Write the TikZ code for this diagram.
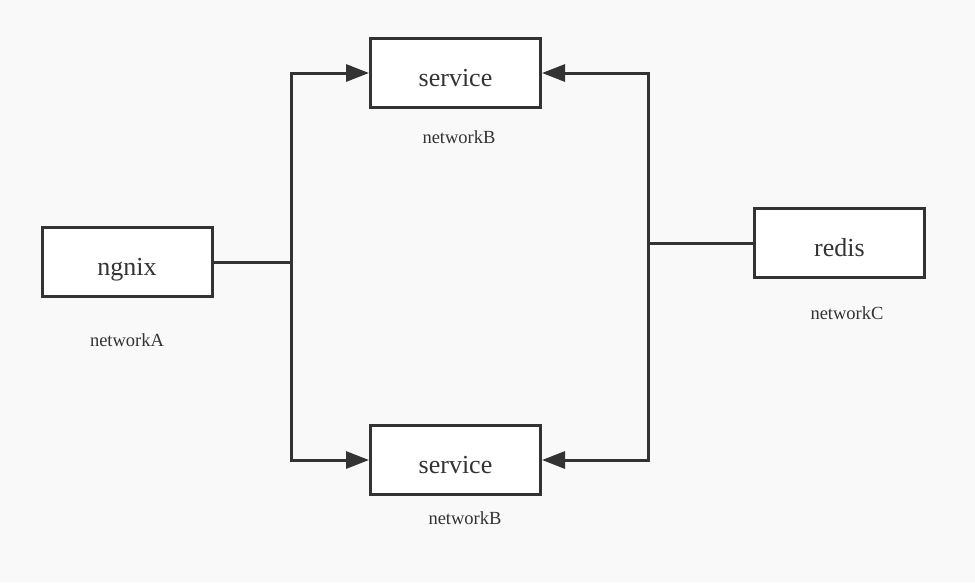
\documentclass[tikz,border=0pt]{standalone}
\usepackage{fontspec}
\setmainfont{Liberation Serif}
\usetikzlibrary{positioning}
\usetikzlibrary{arrows.meta}
\definecolor{ink}{HTML}{333333}
\definecolor{paper}{HTML}{F9F9F9}
\tikzset{
  every node/.style={
    align=center,
    text=ink,
  },
  box/.style={
    draw=ink,
    fill=white,
    line width=3pt,
    minimum width=170pt,
    minimum height=69pt,
    text height=27pt,
    text depth=0pt,
    font=\fontsize{26}{30}\selectfont,
  },
  net/.style={
    font=\fontsize{18.5}{22}\selectfont,
  },
  wire/.style={
    draw=ink,
    line width=3pt,
  },
  feed/.style={
    wire,
    -{Triangle[length=23pt,width=17pt]},
  },
}

\begin{document}
\begin{tikzpicture}[x=1pt,y=-1pt]
    \fill[paper] (0,0) rectangle (975,582) ;
    \useasboundingbox (0,0) rectangle (975,582) ;
    % boxes
    \node[box] (ngnix) at (127,262) {ngnix} ;
    \node[box] (svcTop) at (455.5,73) {service} ;
    \node[box] (svcBot) at (455.5,460) {service} ;
    \node[box] (redis) at (839.5,243) {redis} ;
    % network labels
    \node[net] (netA) at (127,340) {networkA} ;
    \node[net] (netBtop) at (459,137) {networkB} ;
    \node[net] (netBbot) at (465,518) {networkB} ;
    \node[net] (netC) at (847,313) {networkC} ;
    % junctions
    \coordinate (jA) at (291,262) ;
    \coordinate (jC) at (648,243) ;
    \draw[wire] (ngnix.east) -- (jA) ;
    \draw[feed] (jA) |- (svcTop.west) ;
    \draw[feed] (jA) |- (svcBot.west) ;
    \draw[wire] (redis.west) -- (jC) ;
    \draw[feed] (jC) |- (svcTop.east) ;
    \draw[feed] (jC) |- (svcBot.east) ;
\end{tikzpicture}
\end{document}
